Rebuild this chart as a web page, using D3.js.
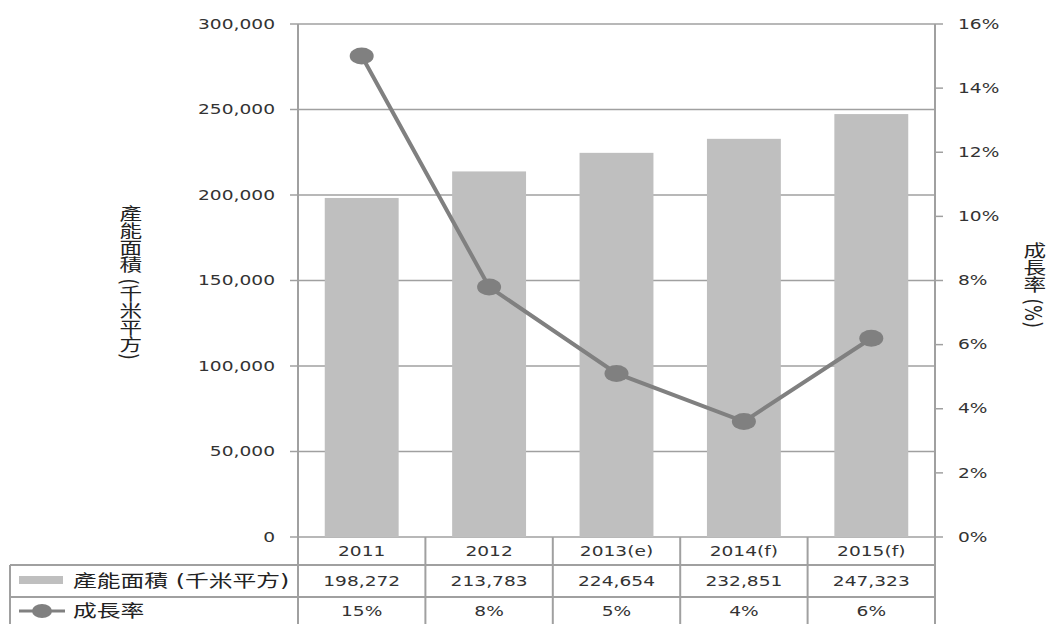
<!DOCTYPE html>
<html><head><meta charset="utf-8">
<script src="https://cdn.jsdelivr.net/npm/d3@7"></script>
<style>
html,body{margin:0;padding:0;background:#fff;}
svg{display:block;}
text{font-family:"DejaVu Sans","Noto Sans CJK TC",sans-serif;fill:#333;}
</style></head>
<body>
<svg id="chart" width="1046" height="624"></svg>
<script>
const categories = ["2011", "2012", "2013(e)", "2014(f)", "2015(f)"];
const capacity = [198272, 213783, 224654, 232851, 247323];
const growth = [0.15, 0.078, 0.051, 0.036, 0.062];
const capacityLabels = ["198,272", "213,783", "224,654", "232,851", "247,323"];
const growthLabels = ["15%", "8%", "5%", "4%", "6%"];
const leftTicks = [0, 50000, 100000, 150000, 200000, 250000, 300000];
const rightTicks = [0, 0.02, 0.04, 0.06, 0.08, 0.10, 0.12, 0.14, 0.16];
const seriesBarName = "產能面積 (千米平方)";
const seriesLineName = "成長率";
const leftTitle = "產能面積 (千米平方)";
const rightTitle = "成長率 (%)";

const SX = 1.33; // horizontal stretch of text
const svg = d3.select("#chart");
const L = 298, R = 935, T = 24, B = 537;
const gridColor = "#a0a0a0";

const x = d3.scaleBand().domain(categories).range([L, R]).paddingInner(0.42).paddingOuter(0.21);
const yL = d3.scaleLinear().domain([0, 300000]).range([B, T]);
const yR = d3.scaleLinear().domain([0, 0.16]).range([B, T]);

function stext(g, x0, y0, str, opts = {}) {
  return g.append("text")
    .attr("transform", `translate(${x0},${y0}) scale(${opts.sx || SX},1)`)
    .attr("text-anchor", opts.anchor || "middle")
    .attr("dominant-baseline", "central")
    .style("font-size", (opts.size || 14) + "px")
    .style("fill", opts.fill || "#333")
    .text(str);
}

// gridlines
svg.append("g").selectAll("line").data(leftTicks).join("line")
  .attr("x1", L).attr("x2", R)
  .attr("y1", d => yL(d)).attr("y2", d => yL(d))
  .attr("stroke", gridColor).attr("stroke-width", 1.5);

// bars
svg.append("g").selectAll("rect").data(categories).join("rect")
  .attr("x", d => x(d)).attr("width", x.bandwidth())
  .attr("y", (d, i) => yL(capacity[i]))
  .attr("height", (d, i) => B - yL(capacity[i]))
  .attr("fill", "#bfbfbf");

// left axis
const gL = svg.append("g");
gL.append("line").attr("x1", L).attr("x2", L).attr("y1", T).attr("y2", 624)
  .attr("stroke", gridColor).attr("stroke-width", 2);
gL.selectAll("line.t").data(leftTicks).join("line").attr("class", "t")
  .attr("x1", L - 8).attr("x2", L).attr("y1", d => yL(d)).attr("y2", d => yL(d))
  .attr("stroke", gridColor).attr("stroke-width", 1.5);
leftTicks.forEach(v => stext(gL, 275, yL(v), d3.format(",")(v), {anchor: "end", size: 14}));

// right axis
const gR = svg.append("g");
gR.append("line").attr("x1", R).attr("x2", R).attr("y1", T).attr("y2", 624)
  .attr("stroke", gridColor).attr("stroke-width", 2);
gR.selectAll("line.t").data(rightTicks).join("line").attr("class", "t")
  .attr("x1", R).attr("x2", R + 8).attr("y1", d => yR(d)).attr("y2", d => yR(d))
  .attr("stroke", gridColor).attr("stroke-width", 1.5);
rightTicks.forEach(v => stext(gR, 958, yR(v), d3.format(".0%")(v), {anchor: "start", size: 14}));

// line series
const line = d3.line().x((d, i) => x(categories[i]) + x.bandwidth() / 2).y(d => yR(d));
svg.append("path").datum(growth).attr("d", line)
  .attr("fill", "none").attr("stroke", "#808080").attr("stroke-width", 4);
svg.append("g").selectAll("ellipse").data(growth).join("ellipse")
  .attr("cx", (d, i) => x(categories[i]) + x.bandwidth() / 2)
  .attr("cy", d => yR(d)).attr("rx", 12).attr("ry", 8.5).attr("fill", "#808080");

// axis titles (vertical)
function vtitle(cx, y0, str) {
  svg.append("text")
    .attr("transform", `translate(${cx},${y0}) scale(${SX},1)`)
    .style("writing-mode", "vertical-rl")
    .style("font-size", "17px")
    .style("fill", "#222")
    .attr("text-anchor", "start")
    .text(str);
}
vtitle(129, 205, leftTitle);
vtitle(1033, 242, rightTitle);

// data table
const gT = svg.append("g");
const rowY = [537, 565, 597, 626];
gT.append("line").attr("x1", 10).attr("x2", R).attr("y1", rowY[1]).attr("y2", rowY[1])
  .attr("stroke", gridColor).attr("stroke-width", 2);
gT.append("line").attr("x1", 10).attr("x2", R).attr("y1", rowY[2]).attr("y2", rowY[2])
  .attr("stroke", gridColor).attr("stroke-width", 2);
gT.append("line").attr("x1", 10).attr("x2", R).attr("y1", rowY[3]).attr("y2", rowY[3])
  .attr("stroke", gridColor).attr("stroke-width", 2);
gT.append("line").attr("x1", 10).attr("x2", 10).attr("y1", rowY[1]).attr("y2", 624)
  .attr("stroke", gridColor).attr("stroke-width", 2);
categories.forEach((c, i) => {
  const bx = x(c) - x.step() * 0.21;
  if (i > 0) gT.append("line").attr("x1", bx).attr("x2", bx).attr("y1", B).attr("y2", 624)
    .attr("stroke", gridColor).attr("stroke-width", 2);
});
categories.forEach((c, i) => {
  const cx = x(c) + x.bandwidth() / 2;
  stext(gT, cx, 551, c, {size: 14});
  stext(gT, cx, 581, capacityLabels[i], {size: 14});
  stext(gT, cx, 611, growthLabels[i], {size: 14});
});
// legend keys
gT.append("rect").attr("x", 19).attr("y", 576).attr("width", 44).attr("height", 8).attr("fill", "#bfbfbf");
stext(gT, 73, 581, seriesBarName, {anchor: "start", size: 17.5, sx: 1.36, fill: "#222"});
gT.append("line").attr("x1", 19).attr("x2", 65).attr("y1", 611).attr("y2", 611)
  .attr("stroke", "#808080").attr("stroke-width", 3);
gT.append("ellipse").attr("cx", 42).attr("cy", 611).attr("rx", 10).attr("ry", 7).attr("fill", "#808080");
stext(gT, 73, 611, seriesLineName, {anchor: "start", size: 17.5, sx: 1.36, fill: "#222"});
</script>
</body></html>
